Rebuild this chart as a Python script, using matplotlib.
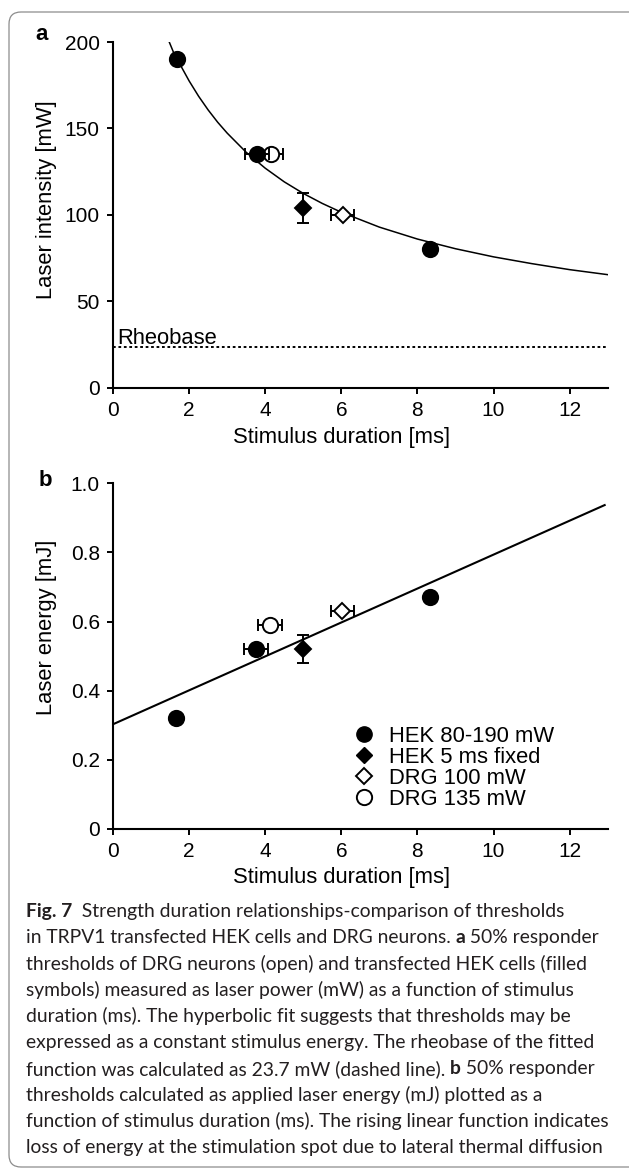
import matplotlib
matplotlib.use('Agg')
import matplotlib.pyplot as plt
from matplotlib.lines import Line2D
from matplotlib.patches import FancyBboxPatch
from matplotlib.font_manager import FontProperties

W, H, DPI = 629, 1168, 100

# ---- panel a: threshold laser power vs stimulus duration
hek_dur = [1.67, 3.78, 8.34]
hek_mw = [190, 135, 80]
hek_dur_err = [0, 0.32, 0.12]
hek_mw_err = [0, 0, 2]

hek5_dur = [5.0]
hek5_mw = [104]
hek5_mw_err = [8.5]

drg100_dur = [6.04]
drg100_mw = [100]
drg100_dur_err = [0.3]

drg135_dur = [4.14]
drg135_mw = [135]
drg135_dur_err = [0.32]

# hyperbolic fit
fit_dur = [1.48, 1.6, 1.75, 2.0, 2.25, 2.5, 2.75, 3.0, 3.5, 4.0, 4.5, 5.0, 5.5, 6.0,
           7.0, 8.0, 9.0, 10.0, 11.0, 12.0, 13.0]
fit_mw = [199.9, 193.5, 187.5, 177.5, 168.6, 160.7, 153.6, 147.3, 136.2, 127.0, 119.1,
          112.4, 106.6, 101.5, 92.9, 86.0, 80.4, 75.7, 71.8, 68.3, 65.4]
rheobase = 23.7

# ---- panel b: threshold energy vs stimulus duration
hek_mj = [0.32, 0.52, 0.67]
hek_dur_b = [1.65, 3.76, 8.34]
hek5_mj = [0.52]
hek5_mj_err = [0.04]
drg100_mj = [0.63]
drg135_mj = [0.59]
drg100_dur_b = [6.03]
drg135_dur_b = [4.12]
lin_dur = [0.0, 12.92]
lin_mj = [0.303, 0.937]

legend_labels = ['HEK 80-190 mW', 'HEK 5 ms fixed', 'DRG 100 mW', 'DRG 135 mW']

caption = [
    [('Fig. 7', True), ('  Strength duration relationships-comparison of thresholds', False)],
    [('in TRPV1 transfected HEK cells and DRG neurons. ', False), ('a', True), (' 50% responder', False)],
    [('thresholds of DRG neurons (open) and transfected HEK cells (filled', False)],
    [('symbols) measured as laser power (mW) as a function of stimulus', False)],
    [('duration (ms). The hyperbolic fit suggests that thresholds may be', False)],
    [('expressed as a constant stimulus energy. The rheobase of the fitted', False)],
    [('function was calculated as 23.7 mW (dashed line). ', False), ('b', True), (' 50% responder', False)],
    [('thresholds calculated as applied laser energy (mJ) plotted as a', False)],
    [('function of stimulus duration (ms). The rising linear function indicates', False)],
    [('loss of energy at the stimulation spot due to lateral thermal diffusion', False)],
]

plt.rcParams['font.family'] = ['Liberation Sans', 'DejaVu Sans']
TICK_FS = 15
LAB_FS = 15.8
MS = 11
EW = 1.4


def rect(left, top, right, bottom):
    return [left / W, 1 - bottom / H, (right - left) / W, (bottom - top) / H]


def style(ax, ymax, yticks, ylabels):
    for s in ['top', 'right']:
        ax.spines[s].set_visible(False)
    for s in ['left', 'bottom']:
        ax.spines[s].set_linewidth(1.5)
    ax.set_xlim(0, 13)
    ax.set_ylim(0, ymax)
    ax.set_xticks(range(0, 13, 2))
    ax.set_yticks(yticks)
    ax.set_yticklabels(ylabels)
    ax.tick_params(direction='out', length=4.5, width=1.4, labelsize=TICK_FS, pad=5)
    ax.set_xlabel('Stimulus duration [ms]', fontsize=LAB_FS)
    ax.xaxis.label.set_va('center')


def draw_points(ax, d100, y100, d135, y135, dh, yh, d5, y5, y5err, dh_err, yh_err):
    kw = dict(ecolor='k', elinewidth=EW, capsize=4, capthick=EW, mec='k', mew=1.4, ms=MS, ls='none')
    ax.errorbar(d135, y135, xerr=drg135_dur_err, fmt='o', mfc='white', zorder=3, **kw)
    ax.errorbar(d100, y100, xerr=drg100_dur_err, fmt='D', mfc='white', zorder=3,
                **dict(kw, ms=MS - 2.5))
    ax.errorbar(d5, y5, yerr=y5err, fmt='D', mfc='k', zorder=4, **dict(kw, ms=MS - 2.5))
    ax.errorbar(dh, yh, xerr=dh_err, yerr=yh_err, fmt='o', mfc='k', zorder=5, **kw)


fig = plt.figure(figsize=(W / DPI, H / DPI), dpi=DPI)

# panel a
ax1 = fig.add_axes(rect(113, 42, 607.7, 387.7))
style(ax1, 200, [0, 50, 100, 150, 200], ['0', '50', '100', '150', '200'])
ax1.plot(fit_dur, fit_mw, color='k', lw=1.1, zorder=2)
ax1.plot([0, 13], [rheobase, rheobase], color='k', lw=1.4, ls=(0, (1.4, 1.4)), zorder=2)
ax1.text(0.12, rheobase + 1.6, 'Rheobase', fontsize=LAB_FS, va='baseline', ha='left')
draw_points(ax1, drg100_dur, drg100_mw, drg135_dur, drg135_mw, hek_dur, hek_mw,
            hek5_dur, hek5_mw, hek5_mw_err, hek_dur_err, hek_mw_err)
ax1.set_ylabel('Laser intensity [mW]', fontsize=LAB_FS)
ax1.yaxis.set_label_coords(-0.135, 0.543)
ax1.yaxis.label.set_va('center')
ax1.xaxis.set_label_coords(0.4625, -0.1455)

# panel b
ax2 = fig.add_axes(rect(113, 483.3, 607.7, 829))
style(ax2, 1.0, [0, 0.2, 0.4, 0.6, 0.8, 1.0], ['0', '0.2', '0.4', '0.6', '0.8', '1.0'])
ax2.plot(lin_dur, lin_mj, color='k', lw=1.5, zorder=2)
draw_points(ax2, drg100_dur_b, drg100_mj, drg135_dur_b, drg135_mj, hek_dur_b, hek_mj,
            hek5_dur, hek5_mj, hek5_mj_err, hek_dur_err, [0, 0, 0])
ax2.set_ylabel('Laser energy [mJ]', fontsize=LAB_FS)
ax2.yaxis.set_label_coords(-0.135, 0.584)
ax2.yaxis.label.set_va('center')
ax2.xaxis.set_label_coords(0.4625, -0.139)

handles = [
    Line2D([], [], marker='o', ls='none', mfc='k', mec='k', ms=MS),
    Line2D([], [], marker='D', ls='none', mfc='k', mec='k', ms=MS - 2.5),
    Line2D([], [], marker='D', ls='none', mfc='white', mec='k', mew=1.4, ms=MS - 2.5),
    Line2D([], [], marker='o', ls='none', mfc='white', mec='k', mew=1.4, ms=MS),
]
ax2.legend(handles, legend_labels, loc='upper left', bbox_to_anchor=(0.4843, 0.298),
           frameon=False, fontsize=LAB_FS, handlelength=1.0, handletextpad=0.68,
           labelspacing=0.0, borderpad=0, borderaxespad=0)

# panel letters
fig.text(42 / W, 1 - 35 / H, 'a', fontsize=16, fontweight='bold', ha='center', va='center')
fig.text(45 / W, 1 - 480 / H, 'b', fontsize=16, fontweight='bold', ha='center', va='center')

# outer frame
fig.add_artist(FancyBboxPatch((9, 1), 650, 1155, boxstyle='round,pad=0,rounding_size=12',
                              transform=None, fill=False, ec='#8c8c8c', lw=0.9))

# caption
CAP_FONT = 'Lato'
renderer = fig.canvas.get_renderer()


def width(s, size, bold):
    prop = FontProperties(family=CAP_FONT, size=size, weight='bold' if bold else 'normal')
    w1 = renderer.get_text_width_height_descent('|' + s + '|', prop, False)[0]
    w0 = renderer.get_text_width_height_descent('||', prop, False)[0]
    return w1 - w0


base = width(caption[-1][0][0], 10, False)
cap_fs = 10 * 580 / base
for i, parts in enumerate(caption):
    x = 26
    y = 911 + 26.3 * i
    for txt, bold in parts:
        fig.text(x / W, 1 - y / H, txt, fontsize=cap_fs, family=CAP_FONT,
                 fontweight='bold' if bold else 'normal', va='center', ha='left',
                 color='#231f20')
        x += width(txt, cap_fs, bold)

fig.savefig('out.png', dpi=DPI)
